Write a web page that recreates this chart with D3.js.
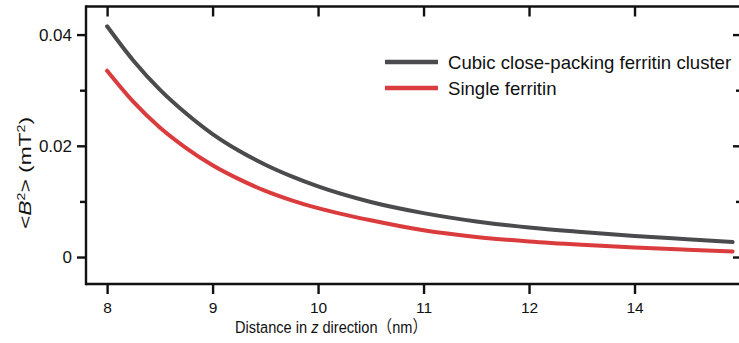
<!DOCTYPE html>
<html>
<head>
<meta charset="utf-8">
<script src="https://cdn.jsdelivr.net/npm/d3@7"></script>
<style>
  html, body { margin: 0; padding: 0; background: #fff; }
  svg { display: block; }
  text { font-family: "Liberation Sans", Arial, sans-serif; fill: #111; }
</style>
</head>
<body>
<svg id="chart" width="739" height="343"></svg>
<script>
// ---- data (x in axis-position units; last tick is labelled "14" in the original) ----
const xPositions = [8, 8.25, 8.5, 8.75, 9, 9.25, 9.5, 9.75, 10, 10.5, 11, 11.5, 12, 12.5, 13, 13.5, 13.93];
const clusterValues = [0.0415, 0.0353, 0.0301, 0.0258, 0.0221, 0.0191, 0.0166, 0.0145, 0.0127, 0.0099, 0.0079, 0.0064, 0.0053, 0.0045, 0.0038, 0.0032, 0.0027];
const singleValues  = [0.0335, 0.0279, 0.0233, 0.0196, 0.0165, 0.0140, 0.0119, 0.0102, 0.0088, 0.0066, 0.0048, 0.0036, 0.0028, 0.0022, 0.0017, 0.0013, 0.0010];
const seriesNames = ["Cubic close-packing ferritin cluster", "Single ferritin"];
const xTickValues = [8, 9, 10, 11, 12, 13];
const xTickLabels = ["8", "9", "10", "11", "12", "14"];
const yTickValues = [0, 0.02, 0.04];
const yTickLabels = ["0", "0.02", "0.04"];
const yMinorTicks = [0.01, 0.03];

const svg = d3.select("#chart");
const L = 86, R = 740, T = 6.5, B = 284;

const x = d3.scaleLinear().domain([7.8, 14.0]).range([L, R]);
const y = d3.scaleLinear().domain([-0.00485, 0.04505]).range([B, T]);

const axisColor = "#111";
const sw = 2.4;
const FONT = '"Liberation Sans", Arial, sans-serif';

// frame
const frame = svg.append("g").attr("stroke", axisColor).attr("stroke-width", sw).attr("fill", "none");
frame.append("line").attr("x1", L).attr("x2", R).attr("y1", B).attr("y2", B);
frame.append("line").attr("x1", L).attr("x2", R).attr("y1", T).attr("y2", T);
frame.append("line").attr("x1", L).attr("x2", L).attr("y1", T - sw/2).attr("y2", B + sw/2);

// bottom axis
const xAxis = d3.axisBottom(x).tickValues(xTickValues)
  .tickFormat((d, i) => xTickLabels[i]).tickSize(10).tickPadding(8);
const gx = svg.append("g").attr("transform", `translate(0,${B})`).call(xAxis);
gx.select(".domain").remove();
gx.selectAll(".tick line").attr("stroke", axisColor).attr("stroke-width", sw);
gx.selectAll(".tick text").attr("font-size", 15.5).attr("fill", "#111").style("font-family", FONT);

// top mirrored ticks (inward)
const gxt = svg.append("g").attr("transform", `translate(0,${T})`)
  .call(d3.axisBottom(x).tickValues(xTickValues).tickFormat("").tickSize(10));
gxt.select(".domain").remove();
gxt.selectAll(".tick line").attr("stroke", axisColor).attr("stroke-width", sw);

// left axis
const yAxis = d3.axisLeft(y).tickValues(yTickValues)
  .tickFormat((d, i) => yTickLabels[i]).tickSize(9).tickPadding(5);
const gy = svg.append("g").attr("transform", `translate(${L},0)`).call(yAxis);
gy.select(".domain").remove();
gy.selectAll(".tick line").attr("stroke", axisColor).attr("stroke-width", sw);
gy.selectAll(".tick text").attr("font-size", 17).attr("fill", "#111").style("font-family", FONT);
const gym = svg.append("g").attr("transform", `translate(${L},0)`)
  .call(d3.axisLeft(y).tickValues(yMinorTicks).tickFormat("").tickSize(6));
gym.select(".domain").remove();
gym.selectAll(".tick line").attr("stroke", axisColor).attr("stroke-width", sw);

// right mirrored ticks (inward)
const gyr = svg.append("g").attr("transform", `translate(${R},0)`)
  .call(d3.axisRight(y).tickValues(yTickValues).tickFormat("").tickSize(-7));
gyr.select(".domain").remove();
gyr.selectAll(".tick line").attr("stroke", axisColor).attr("stroke-width", sw);
const gyrm = svg.append("g").attr("transform", `translate(${R},0)`)
  .call(d3.axisRight(y).tickValues(yMinorTicks).tickFormat("").tickSize(-4));
gyrm.select(".domain").remove();
gyrm.selectAll(".tick line").attr("stroke", axisColor).attr("stroke-width", sw);

// lines
const colors = ["#4b4b4d", "#da3b3d"];
const allSeries = [clusterValues, singleValues];
const line = d3.line().x(d => x(d[0])).y(d => y(d[1])).curve(d3.curveMonotoneX);
allSeries.forEach((vals, i) => {
  svg.append("path")
    .datum(xPositions.map((xv, j) => [xv, vals[j]]))
    .attr("d", line)
    .attr("fill", "none")
    .attr("stroke", colors[i])
    .attr("stroke-width", 4)
    .attr("stroke-linecap", "round");
});

// legend
const legY = [62, 88];
seriesNames.forEach((name, i) => {
  svg.append("line").attr("x1", 385).attr("x2", 438).attr("y1", legY[i]).attr("y2", legY[i])
    .attr("stroke", colors[i]).attr("stroke-width", 4.5);
  svg.append("text").attr("x", 448).attr("y", legY[i]).attr("dy", "0.35em")
    .attr("font-size", 18.6).text(name);
});

// fit a text element horizontally to a target width around its anchor
function fitWidth(sel, cx, cy, target, rotate) {
  const w = sel.node().getBBox().width;
  const s = target / w;
  sel.attr("transform", `translate(${cx},${cy}) rotate(${rotate}) scale(${s},1)`);
}

// x axis title
const xt = svg.append("text").attr("x", 0).attr("y", 0).attr("text-anchor", "middle").attr("font-size", 17);
xt.append("tspan").text("Distance in ");
xt.append("tspan").attr("font-style", "italic").text("z");
xt.append("tspan").text(" direction");
xt.append("tspan").style("font-family", '"Noto Sans CJK SC", sans-serif').text("（");
xt.append("tspan").text("nm");
xt.append("tspan").style("font-family", '"Noto Sans CJK SC", sans-serif').text("）");
fitWidth(xt, 331, 333, 192, 0);

// y axis title
const yt = svg.append("text").attr("x", 0).attr("y", 0).attr("text-anchor", "middle").attr("font-size", 17);
yt.append("tspan").text("<");
yt.append("tspan").attr("font-style", "italic").text("B");
yt.append("tspan").attr("font-size", 10.5).attr("dy", -6.5).text("2");
yt.append("tspan").attr("dy", 6.5).text("> (mT");
yt.append("tspan").attr("font-size", 10.5).attr("dy", -6.5).text("2");
yt.append("tspan").attr("dy", 6.5).text(")");
fitWidth(yt, 31, 173, 112, -90);
</script>
</body>
</html>
